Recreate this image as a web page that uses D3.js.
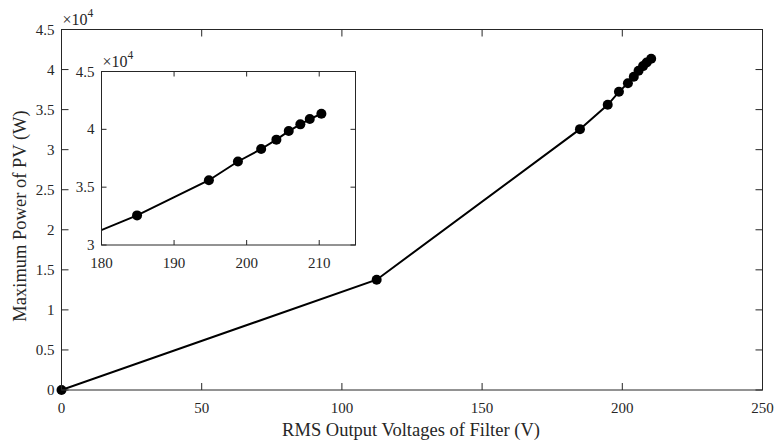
<!DOCTYPE html>
<html>
<head>
<meta charset="utf-8">
<script src="https://cdn.jsdelivr.net/npm/d3@7"></script>
<style>
  body { margin: 0; background: #fff; }
  text { font-family: "Liberation Serif", "Times New Roman", serif; fill: #262626; }
</style>
</head>
<body>
<div id="chart"></div>
<script>
// RMS filter output voltage (V) and max PV power (W)
var voltage = [0, 112.4, 184.9, 194.8, 198.8, 202.0, 204.1, 205.8, 207.4, 208.7, 210.3];
var power = [0, 13770, 32560, 35600, 37220, 38300, 39110, 39850, 40430, 40890, 41350];

var xTicksMain = [0, 50, 100, 150, 200, 250];
var yTicksMain = [0, 5000, 10000, 15000, 20000, 25000, 30000, 35000, 40000, 45000];
var xTicksInset = [180, 190, 200, 210];
var yTicksInset = [30000, 35000, 40000, 45000];

var xLabel = 'RMS Output Voltages of Filter (V)';
var yLabel = 'Maximum Power of PV (W)';

var width = 776, height = 441;
var axisColor = '#262626';

var points = voltage.map(function(v, i) { return {x: v, y: power[i]}; });

var svg = d3.select('#chart').append('svg')
    .attr('width', width)
    .attr('height', height);

function fmt(d) { return String(d / 10000); }

function drawPanel(g, x, y, xTicks, yTicks, tickLen, clipId) {
    var x0 = x.range()[0], x1 = x.range()[1];
    var y0 = y.range()[0], y1 = y.range()[1];

    g.append('rect')
        .attr('x', x0).attr('y', y1)
        .attr('width', x1 - x0).attr('height', y0 - y1)
        .attr('fill', '#fff');

    svg.append('defs').append('clipPath').attr('id', clipId)
        .append('rect')
        .attr('x', x0).attr('y', y1)
        .attr('width', x1 - x0).attr('height', y0 - y1);

    var line = d3.line()
        .x(function(d) { return x(d.x); })
        .y(function(d) { return y(d.y); });

    g.append('g').attr('clip-path', 'url(#' + clipId + ')')
        .append('path')
        .datum(points)
        .attr('d', line)
        .attr('fill', 'none')
        .attr('stroke', '#000')
        .attr('stroke-width', 2);

    // markers may overflow a bit at the origin
    g.append('g').selectAll('circle')
        .data(points.filter(function(d) {
            return d.x >= x.domain()[0] && d.x <= x.domain()[1] &&
                   d.y >= y.domain()[0] && d.y <= y.domain()[1];
        }))
        .enter().append('circle')
        .attr('cx', function(d) { return x(d.x); })
        .attr('cy', function(d) { return y(d.y); })
        .attr('r', 5)
        .attr('fill', '#000');

    var ax = g.append('g');
    ax.append('rect')
        .attr('x', x0).attr('y', y1)
        .attr('width', x1 - x0).attr('height', y0 - y1)
        .attr('fill', 'none')
        .attr('stroke', axisColor)
        .attr('stroke-width', 1);

    xTicks.forEach(function(t) {
        var px = x(t);
        ax.append('line').attr('x1', px).attr('x2', px)
            .attr('y1', y0).attr('y2', y0 - tickLen)
            .attr('stroke', axisColor);
        ax.append('line').attr('x1', px).attr('x2', px)
            .attr('y1', y1).attr('y2', y1 + tickLen)
            .attr('stroke', axisColor);
        ax.append('text')
            .attr('x', px).attr('y', y0 + 18)
            .attr('text-anchor', 'middle')
            .attr('dominant-baseline', 'central')
            .style('font-size', '15px')
            .text(t);
    });

    yTicks.forEach(function(t) {
        var py = y(t);
        ax.append('line').attr('x1', x0).attr('x2', x0 + tickLen)
            .attr('y1', py).attr('y2', py)
            .attr('stroke', axisColor);
        ax.append('line').attr('x1', x1).attr('x2', x1 - tickLen)
            .attr('y1', py).attr('y2', py)
            .attr('stroke', axisColor);
        ax.append('text')
            .attr('x', x0 - 7).attr('y', py)
            .attr('text-anchor', 'end')
            .attr('dominant-baseline', 'central')
            .style('font-size', '15px')
            .text(fmt(t));
    });

    // exponent label
    var ex = ax.append('text')
        .attr('x', x0 + 1).attr('y', y1 - 4.5)
        .style('font-size', '16px');
    ex.append('tspan').text('\u00d710');
    ex.append('tspan').attr('dy', -8).style('font-size', '11.5px').text('4');
}

// main axes
var xMain = d3.scaleLinear().domain([0, 250]).range([61.5, 762.5]);
var yMain = d3.scaleLinear().domain([0, 45000]).range([390, 29.5]);
drawPanel(svg.append('g'), xMain, yMain, xTicksMain, yTicksMain, 7, 'clipMain');

svg.append('text')
    .attr('x', 411).attr('y', 429.5)
    .attr('text-anchor', 'middle')
    .attr('dominant-baseline', 'central')
    .style('font-size', '18.5px')
    .text(xLabel);

svg.append('text')
    .attr('transform', 'translate(19.5,216) rotate(-90)')
    .attr('text-anchor', 'middle')
    .attr('dominant-baseline', 'central')
    .style('font-size', '18.5px')
    .text(yLabel);

// inset
var xInset = d3.scaleLinear().domain([180, 215]).range([101.5, 355.5]);
var yInset = d3.scaleLinear().domain([30000, 45000]).range([245, 71.5]);
drawPanel(svg.append('g'), xInset, yInset, xTicksInset, yTicksInset, 5, 'clipInset');
</script>
</body>
</html>
